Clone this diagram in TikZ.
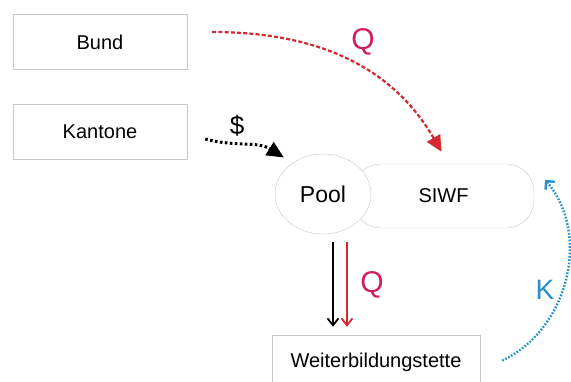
\documentclass[tikz,border=0pt]{standalone}
\usepackage{fontspec}
\setmainfont{Liberation Sans}
\usetikzlibrary{arrows.meta,shapes.geometric}
\definecolor{qred}{RGB}{214,40,48}
\definecolor{qlabel}{RGB}{208,32,88}
\definecolor{kblue}{RGB}{36,144,204}
\begin{document}
\begin{tikzpicture}
			[	x=1pt,y=1pt,
			box/.style={rectangle,draw=black!22,fill=white,minimum width=174pt,minimum height=55pt,font=\fontsize{20}{23}\selectfont},
			pill/.style={rectangle,draw=black!22,fill=white,rounded corners=28pt,minimum width=181pt,minimum height=64pt,font=\fontsize{20}{23}\selectfont},
			poolshape/.style={ellipse,draw=black!22,fill=white,minimum width=96pt,minimum height=80pt,inner sep=0pt,font=\fontsize{23}{26}\selectfont},
			plain/.style={draw=none,fill=none,font=\fontsize{30}{33}\selectfont},
			flow/.style={line width=1.8pt,-{Straight Barb[length=7pt,width=11pt]}},
			dots/.style={line width=3pt,dash pattern=on 2.6pt off 2.4pt}
			]
			\useasboundingbox (0,0) rectangle (571,381);
			\node[box] (bund) at (100,339) {Bund};
			\node[box] (kantone) at (100,249) {Kantone};
			\node[pill] (siwf) at (443.5,185) {SIWF};
			\node[poolshape] (pool) at (323,187) {Pool};
			\node[box,minimum width=208pt] (wbs) at (376,18.5) {Weiterbildungstette};

			\node[plain,text=qlabel] (qtop) at (363,339) {Q};
			\node[plain,font=\fontsize{26}{30}\selectfont] (dollar) at (237,255) {\$};
			\node[plain,text=qlabel] (qmid) at (372,96) {Q};
			\node[plain,text=kblue,font=\fontsize{28}{30}\selectfont] (klab) at (545,91) {K};

			\draw[qred, line width=2.2pt, dash pattern=on 4pt off 2.2pt, -{Triangle[length=16pt,width=15pt]}]
				([xshift=25pt,yshift=10pt]bund.east) to[out=0,in=120] ([xshift=-2pt,yshift=12pt]siwf.north);
			\draw[black, dots, -{Triangle[length=17pt,width=15pt]}]
				([xshift=18pt,yshift=-7pt]kantone.east) to[out=-15,in=148] ([xshift=-5pt,yshift=8pt]pool.north west);
			\draw[flow, black] ([xshift=10pt,yshift=-8pt]pool.south) -- ([xshift=-43pt,yshift=8pt]wbs.north);
			\draw[flow, qred] ([xshift=24pt,yshift=-8pt]pool.south) -- ([xshift=-29pt,yshift=8pt]wbs.north);
			\draw[kblue, dots, line width=2.4pt, dash pattern=on 1.7pt off 1.6pt, -{Straight Barb[length=6pt,width=12pt,line width=2.4pt]}]
				([xshift=22pt,yshift=2pt]wbs.east) to[out=25,in=-50] ([xshift=11pt,yshift=-16pt]siwf.south east |- siwf.north);
		\end{tikzpicture}
\end{document}
